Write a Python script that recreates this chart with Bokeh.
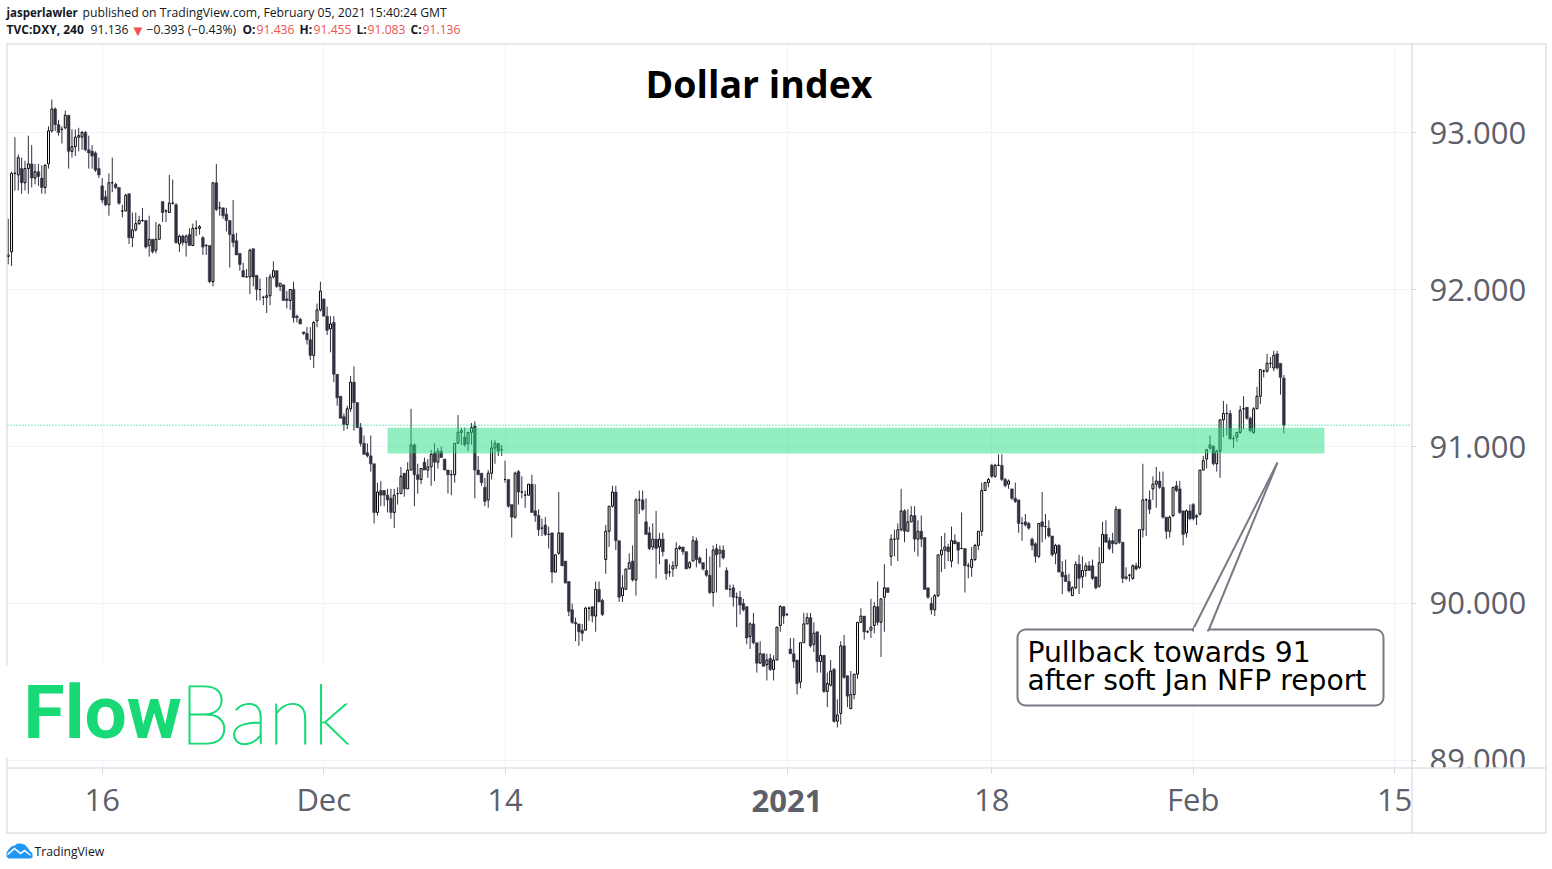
from bokeh.embed import file_html
from bokeh.models import (BoxAnnotation, ColumnDataSource, FixedTicker, Label,
                          NumeralTickFormatter, PolyAnnotation)
from bokeh.plotting import figure
from bokeh.resources import INLINE

opens = [
92.21,92.24,92.74,92.73,92.77,92.68,92.77,92.80,92.71,92.75,
92.71,92.65,92.80,93.01,93.15,93.05,93.02,93.03,93.11,92.88,
92.91,92.97,92.97,93.00,92.89,92.88,92.87,92.77,92.66,92.59,
92.54,92.68,92.67,92.65,92.50,92.50,92.61,92.33,92.38,92.42,
92.44,92.44,92.28,92.32,92.25,92.32,92.56,92.50,92.49,92.55,
92.54,92.29,92.34,92.30,92.35,92.28,92.39,92.39,92.33,92.28,
92.28,92.05,92.68,92.52,92.52,92.48,92.44,92.35,92.31,92.23,
92.12,92.08,92.08,92.26,92.09,92.00,91.95,91.95,91.96,92.08,
92.12,92.02,92.03,91.94,91.93,92.00,91.83,91.81,91.73,91.72,
91.68,91.58,91.80,91.87,91.94,91.83,91.75,91.79,91.46,91.32,
91.19,91.14,91.24,91.41,91.28,91.12,91.02,90.96,90.94,90.89,
90.58,90.72,90.72,90.69,90.67,90.58,90.70,90.70,90.83,90.73,
90.85,91.01,90.82,90.79,90.90,90.85,90.87,90.96,90.90,90.97,
90.92,90.85,90.82,90.82,91.02,91.09,91.06,91.02,91.09,91.13,
90.85,90.83,90.74,90.66,90.83,90.99,91.02,90.98,90.79,90.79,
90.63,90.55,90.84,90.71,90.69,90.69,90.76,90.59,90.56,90.48,
90.50,90.44,90.45,90.20,90.32,90.45,90.27,90.14,89.96,89.88,
89.87,89.83,89.83,89.97,89.98,89.92,90.09,90.02,90.28,90.46,
90.62,90.71,90.40,90.05,90.09,90.22,90.27,90.15,90.66,90.66,
90.52,90.45,90.36,90.41,90.36,90.41,90.28,90.20,90.22,90.24,
90.35,90.36,90.33,90.23,90.27,90.40,90.29,90.26,90.21,90.18,
90.07,90.35,90.32,90.34,90.21,90.09,90.10,90.04,90.04,90.00,
89.98,89.79,89.87,89.75,89.62,89.68,89.61,89.65,89.58,89.64,
89.86,89.98,89.93,89.71,89.68,89.64,89.50,89.75,89.87,89.91,
89.74,89.82,89.63,89.67,89.44,89.48,89.58,89.25,89.30,89.73,
89.54,89.33,89.42,89.55,89.88,89.92,89.82,89.83,89.86,89.98,
89.88,90.04,90.10,90.30,90.41,90.41,90.47,90.59,90.46,90.52,
90.56,90.41,90.46,90.42,90.10,90.00,89.96,90.05,90.31,90.34,
90.36,90.27,90.40,90.39,90.35,90.35,90.24,90.23,90.28,90.37,
90.46,90.72,90.77,90.88,90.81,90.88,90.88,90.79,90.76,90.73,
90.67,90.66,90.51,90.52,90.51,90.41,90.38,90.30,90.52,90.49,
90.48,90.43,90.32,90.37,90.20,90.18,90.14,90.05,90.10,90.25,
90.17,90.21,90.24,90.24,90.17,90.11,90.26,90.44,90.40,90.40,
90.38,90.60,90.39,90.17,90.18,90.16,90.24,90.23,90.47,90.66,
90.66,90.73,90.76,90.78,90.74,90.55,90.46,90.56,90.75,90.73,
90.59,90.45,90.59,90.63,90.56,90.57,90.85,90.92,90.99,91.00,
90.89,90.97,91.17,91.21,91.21,91.05,91.06,91.09,91.24,91.25,
91.18,91.09,91.24,91.32,91.48,91.48,91.53,91.50,91.59,91.53,
91.436]

closes = [
92.22,92.74,92.74,92.84,92.68,92.77,92.80,92.71,92.75,92.72,
92.65,92.79,93.01,93.15,93.05,93.00,93.02,93.11,92.88,92.91,
92.97,92.98,93.00,92.89,92.87,92.85,92.76,92.73,92.57,92.54,
92.68,92.68,92.65,92.55,92.50,92.60,92.33,92.38,92.42,92.44,
92.44,92.27,92.32,92.24,92.32,92.41,92.49,92.50,92.55,92.55,
92.30,92.34,92.30,92.34,92.28,92.39,92.39,92.40,92.27,92.28,
92.05,92.68,92.51,92.52,92.47,92.44,92.35,92.30,92.22,92.16,
92.08,92.08,92.25,92.08,92.00,92.00,91.95,91.96,92.08,92.12,
92.02,92.04,91.93,91.93,92.00,91.82,91.82,91.78,91.72,91.68,
91.58,91.79,91.87,91.99,91.83,91.74,91.78,91.46,91.31,91.18,
91.14,91.24,91.41,91.28,91.12,91.02,90.95,90.94,90.89,90.58,
90.71,90.69,90.69,90.66,90.58,90.69,90.70,90.81,90.73,90.85,
91.01,90.82,90.79,90.86,90.85,90.87,90.95,90.90,90.97,90.93,
90.85,90.82,90.82,91.02,91.09,91.10,91.01,91.09,91.12,90.85,
90.82,90.77,90.65,90.83,90.99,91.02,90.97,90.98,90.79,90.62,
90.55,90.83,90.71,90.71,90.69,90.76,90.58,90.56,90.47,90.48,
90.44,90.44,90.20,90.31,90.45,90.24,90.13,89.95,89.88,89.87,
89.82,89.81,89.97,89.97,89.92,90.09,90.01,89.93,90.46,90.62,
90.71,90.40,90.04,90.10,90.22,90.26,90.15,90.66,90.66,90.60,
90.44,90.35,90.41,90.35,90.41,90.33,90.19,90.20,90.24,90.35,
90.36,90.33,90.22,90.26,90.40,90.28,90.26,90.22,90.18,90.07,
90.34,90.31,90.34,90.29,90.09,90.09,90.04,90.04,89.99,89.96,
89.78,89.87,89.75,89.62,89.68,89.60,89.64,89.58,89.64,89.85,
89.98,89.92,89.93,89.68,89.63,89.49,89.75,89.87,89.91,89.73,
89.81,89.63,89.67,89.44,89.49,89.57,89.25,89.29,89.73,89.53,
89.41,89.42,89.55,89.88,89.92,89.82,89.82,89.85,89.98,89.88,
90.03,90.10,90.07,90.41,90.41,90.47,90.59,90.46,90.52,90.56,
90.41,90.46,90.41,90.09,90.04,89.96,90.05,90.31,90.34,90.36,
90.33,90.40,90.38,90.34,90.35,90.24,90.24,90.28,90.37,90.46,
90.72,90.77,90.79,90.81,90.88,90.88,90.79,90.75,90.78,90.67,
90.65,90.51,90.51,90.50,90.48,90.37,90.30,90.51,90.49,90.49,
90.43,90.31,90.37,90.20,90.17,90.14,90.08,90.10,90.25,90.16,
90.21,90.24,90.21,90.16,90.10,90.26,90.44,90.39,90.35,90.38,
90.60,90.39,90.16,90.16,90.18,90.24,90.22,90.47,90.66,90.66,
90.60,90.76,90.78,90.74,90.55,90.46,90.55,90.74,90.72,90.58,
90.44,90.59,90.54,90.54,90.55,90.85,90.91,90.98,91.01,90.89,
90.97,91.17,91.21,91.21,91.05,91.05,91.09,91.23,91.24,91.18,
91.10,91.24,91.32,91.49,91.48,91.53,91.53,91.58,91.50,91.44,
91.136]

highs = [
92.45,92.75,92.97,92.86,92.84,92.82,92.98,92.92,92.80,92.80,
92.79,92.80,93.04,93.21,93.16,93.08,93.04,93.14,93.11,93.02,
93.02,93.03,93.01,93.01,92.98,92.92,92.88,92.84,92.71,92.63,
92.74,92.84,92.68,92.65,92.54,92.61,92.61,92.49,92.49,92.47,
92.52,92.44,92.47,92.32,92.43,92.42,92.56,92.51,92.73,92.70,
92.55,92.35,92.35,92.35,92.39,92.42,92.44,92.41,92.34,92.29,
92.28,92.68,92.80,92.56,92.52,92.52,92.44,92.57,92.36,92.23,
92.17,92.13,92.26,92.26,92.09,92.07,91.96,92.08,92.10,92.18,
92.12,92.04,92.03,91.99,92.00,92.05,91.84,91.82,91.73,91.76,
91.76,91.80,91.91,92.05,91.94,91.89,91.83,91.83,91.46,91.32,
91.21,91.26,91.45,91.51,91.28,91.15,91.07,91.02,91.07,90.89,
90.77,90.78,90.72,90.73,90.73,90.73,90.74,90.87,90.83,90.90,
91.24,91.02,90.89,90.86,90.93,90.92,90.98,91.02,90.99,91.00,
90.92,90.85,90.85,91.02,91.20,91.12,91.12,91.09,91.15,91.16,
90.94,90.83,90.80,90.85,91.04,91.04,91.02,91.01,90.91,90.79,
90.63,90.84,90.85,90.81,90.72,90.76,90.82,90.76,90.60,90.54,
90.55,90.49,90.45,90.31,90.71,90.45,90.27,90.14,90.00,89.91,
89.87,89.87,89.98,89.98,89.98,90.14,90.14,90.03,90.50,90.62,
90.75,90.75,90.40,90.18,90.22,90.32,90.37,90.67,90.72,90.72,
90.67,90.49,90.51,90.59,90.45,90.45,90.28,90.25,90.27,90.39,
90.37,90.36,90.33,90.27,90.43,90.42,90.30,90.26,90.35,90.30,
90.37,90.38,90.37,90.37,90.23,90.12,90.12,90.07,90.08,90.03,
89.98,89.88,89.94,89.75,89.76,89.68,89.68,89.68,89.67,89.85,
89.99,89.98,89.94,89.78,89.78,89.64,89.75,89.94,89.94,89.94,
89.88,89.82,89.80,89.67,89.56,89.64,89.59,89.39,89.76,89.80,
89.54,89.57,89.55,89.88,89.97,89.92,89.83,90.03,90.01,90.14,
90.03,90.25,90.10,90.44,90.47,90.51,90.73,90.60,90.60,90.62,
90.62,90.53,90.56,90.42,90.10,90.04,90.06,90.31,90.43,90.45,
90.38,90.49,90.44,90.39,90.58,90.35,90.26,90.36,90.38,90.46,
90.77,90.77,90.80,90.89,90.89,90.95,90.95,90.80,90.79,90.73,
90.77,90.66,90.55,90.57,90.52,90.42,90.39,90.51,90.71,90.57,
90.53,90.43,90.38,90.38,90.27,90.28,90.19,90.11,90.27,90.31,
90.30,90.26,90.27,90.28,90.17,90.36,90.52,90.53,90.42,90.45,
90.62,90.60,90.39,90.23,90.19,90.25,90.26,90.47,90.89,90.67,
90.72,90.81,90.87,90.84,90.84,90.55,90.56,90.74,90.78,90.78,
90.59,90.60,90.63,90.64,90.57,90.85,90.94,90.98,91.07,91.01,
90.98,91.17,91.29,91.27,91.23,91.07,91.09,91.26,91.32,91.25,
91.19,91.25,91.38,91.49,91.49,91.59,91.57,91.61,91.61,91.53,
91.455]

lows = [
92.16,92.15,92.63,92.63,92.61,92.63,92.61,92.65,92.67,92.66,
92.61,92.61,92.77,93.00,93.01,92.98,92.93,93.02,92.77,92.84,
92.85,92.88,92.89,92.88,92.77,92.77,92.75,92.71,92.55,92.53,
92.47,92.62,92.64,92.54,92.46,92.50,92.29,92.27,92.37,92.41,
92.43,92.26,92.21,92.23,92.23,92.32,92.43,92.43,92.49,92.54,
92.29,92.24,92.28,92.21,92.28,92.28,92.34,92.35,92.22,92.22,
92.04,92.02,92.50,92.47,92.45,92.37,92.14,92.27,92.22,92.12,
92.08,92.08,91.97,92.02,91.93,91.93,91.90,91.85,91.90,92.07,
92.01,91.99,91.93,91.88,91.87,91.79,91.79,91.78,91.71,91.65,
91.55,91.50,91.76,91.86,91.83,91.71,91.60,91.41,91.26,91.18,
91.10,91.11,91.22,91.10,91.12,91.00,90.95,90.93,90.84,90.51,
90.56,90.62,90.62,90.58,90.54,90.48,90.63,90.70,90.68,90.73,
90.85,90.62,90.70,90.76,90.85,90.80,90.75,90.78,90.86,90.93,
90.85,90.70,90.69,90.77,91.02,91.01,91.00,90.97,91.01,90.67,
90.82,90.75,90.62,90.61,90.79,90.89,90.94,90.94,90.77,90.61,
90.42,90.54,90.63,90.67,90.61,90.69,90.58,90.52,90.43,90.43,
90.43,90.35,90.13,90.20,90.31,90.24,90.13,89.92,89.87,89.76,
89.73,89.76,89.83,89.89,89.88,89.82,90.01,89.92,90.19,90.36,
90.61,90.34,90.01,90.01,90.09,90.22,90.14,90.05,90.57,90.59,
90.44,90.34,90.34,90.16,90.25,90.30,90.15,90.17,90.17,90.22,
90.34,90.31,90.22,90.22,90.27,90.23,90.25,90.21,90.17,90.06,
89.98,90.07,90.23,90.28,90.09,90.04,89.98,89.85,89.93,89.95,
89.74,89.71,89.74,89.56,89.62,89.60,89.51,89.57,89.51,89.64,
89.82,89.87,89.92,89.68,89.59,89.42,89.46,89.75,89.87,89.72,
89.69,89.56,89.56,89.43,89.34,89.47,89.24,89.21,89.23,89.52,
89.34,89.33,89.39,89.52,89.88,89.77,89.81,89.78,89.81,89.86,
89.66,89.82,90.07,90.24,90.30,90.27,90.46,90.39,90.46,90.52,
90.33,90.30,90.36,90.09,90.03,89.93,89.92,90.04,90.20,90.22,
90.27,90.23,90.38,90.25,90.35,90.07,90.16,90.17,90.27,90.34,
90.43,90.72,90.74,90.80,90.80,90.88,90.78,90.74,90.73,90.66,
90.64,90.45,90.40,90.49,90.47,90.34,90.26,90.29,90.39,90.41,
90.42,90.30,90.25,90.20,90.06,90.14,90.07,90.05,90.09,90.06,
90.10,90.17,90.21,90.15,90.09,90.10,90.26,90.39,90.34,90.32,
90.38,90.38,90.13,90.15,90.14,90.15,90.21,90.22,90.42,90.43,
90.57,90.66,90.61,90.73,90.54,90.41,90.42,90.55,90.71,90.57,
90.37,90.42,90.53,90.53,90.50,90.56,90.85,90.86,90.98,90.88,
90.84,90.80,91.06,91.07,91.04,90.99,91.03,91.08,91.11,91.17,
91.09,91.08,91.24,91.27,91.44,91.47,91.50,91.48,91.49,91.33,
91.083]

price_ticks = [89, 90, 91, 92, 93]
time_ticks = [28, 94, 148, 232, 293, 353, 413]
time_labels = ["16", "Dec", "14", "2021", "18", "Feb", "15"]
last_close = 91.136
zone_start, zone_end = 113.0, 392.1
zone_low, zone_high = 90.955, 91.12

n = len(opens)
idx = list(range(n))
up = [i for i in idx if closes[i] >= opens[i]]
down = [i for i in idx if closes[i] < opens[i]]

GRID = "#f0f3fa"
BORDER = "#d1d4dc"
AXIS_TEXT = "#5d606b"
DARK = "#2f3140"
RED = "#ef5350"
GREEN = "#19d976"
CALLOUT = "#787b86"

# pane edges on the page
PANE_X0, PANE_X1 = -0.21, 418.03
PANE_Y0, PANE_Y1 = 88.949, 93.5605

p = figure(width=1552, height=869, output_backend="svg", toolbar_location=None,
           x_range=(-2.294, 460.03), y_range=(88.3057, 93.8408),
           y_axis_location="right", min_border=0, outline_line_color=None,
           background_fill_color="white", border_fill_color="white")
p.styles = {"position": "absolute", "left": "0", "top": "0"}

xa, ya = p.xaxis[0], p.yaxis[0]
xa.fixed_location = PANE_Y0
ya.fixed_location = PANE_X1
xa.ticker = FixedTicker(ticks=time_ticks)
ya.ticker = FixedTicker(ticks=price_ticks)
ya.formatter = NumeralTickFormatter(format="0.000")
xa.major_label_overrides = {t: (" " if l == "2021" else l) for t, l in zip(time_ticks, time_labels)}
for a in (xa, ya):
    a.axis_line_color = None
    a.major_tick_line_color = BORDER
    a.major_tick_out = 5
    a.major_tick_in = 0
    a.minor_tick_line_color = None
    a.major_label_text_font = "Open Sans"
    a.major_label_text_font_size = "31px"
    a.major_label_text_color = AXIS_TEXT
    a.major_label_standoff = 13
xa.major_label_standoff = 4

xg, yg = p.xgrid[0], p.ygrid[0]
xg.ticker = FixedTicker(ticks=time_ticks)
yg.ticker = FixedTicker(ticks=price_ticks)
xg.grid_line_color = GRID
yg.grid_line_color = GRID
xg.cross_bounds = (PANE_Y0, PANE_Y1)
yg.cross_bounds = (PANE_X0, PANE_X1)

# candles
p.segment(idx, highs, idx, lows, line_color=DARK, line_width=1)
up_src = ColumnDataSource(dict(x=up, top=[closes[i] for i in up], bottom=[opens[i] for i in up]))
down_src = ColumnDataSource(dict(x=down, top=[opens[i] for i in down], bottom=[closes[i] for i in down]))
p.vbar("x", 0.58, "top", "bottom", source=up_src, fill_color="white", line_color="#000000", line_width=1)
p.vbar("x", 0.82, "top", "bottom", source=down_src, fill_color=DARK, line_color=DARK, line_width=0.5)

# support zone + last price
p.quad(left=[zone_start], right=[zone_end], bottom=[zone_low], top=[zone_high],
       fill_color="#25dd81", fill_alpha=0.5, line_color=None)
p.line([PANE_X0, PANE_X1], [last_close, last_close], line_color="#00cf7a",
       line_width=1, line_dash=[1, 2])


def cbox(left, right, top, bottom, fill="white", line=None, lw=1, radius=0, level="annotation"):
    b = BoxAnnotation(left=left, right=right, top=top, bottom=bottom,
                      left_units="canvas", right_units="canvas",
                      top_units="canvas", bottom_units="canvas",
                      fill_color=fill, fill_alpha=1, line_color=line, line_width=lw, line_alpha=1,
                      border_radius=radius, level=level, editable=False)
    p.add_layout(b)
    return b


def text(x, y, s, size, color="#131722", font="Open Sans", style="normal", align="left", baseline="middle", **kw):
    p.add_layout(Label(x=x, y=y, x_units="canvas", y_units="canvas", text=s,
                       text_font=font, text_font_size=f"{size}px", text_color=color,
                       text_font_style=style, text_align=align, text_baseline=baseline,
                       level="overlay", **kw))


# frame
cbox(1412, 1546, 767, 790)                # clips the 89.000 label
cbox(6, 1546, 43, 44, fill=BORDER)        # top
cbox(6, 7, 43, 833, fill=BORDER)          # left
cbox(1545, 1546, 43, 833, fill=BORDER)    # right
cbox(6, 1546, 832, 833, fill=BORDER)      # bottom
cbox(1411, 1412, 43, 833, fill=BORDER)    # price axis
cbox(7, 1546, 767, 768, fill=BORDER)      # time axis

# logo
cbox(0, 365, 665, 757)
text(23, 711, "Flow", 75, GREEN, "Roboto", "bold")
text(179, 711, "Bank", 82, GREEN, "Lato Hairline, Roboto Thin, Lato Light", text_outline_color=GREEN)

# callout
cbox(1017, 1383, 629, 705, line=CALLOUT, lw=2, radius=8)
p.add_layout(PolyAnnotation(xs=[1192, 1277, 1208], ys=[630, 462, 630], xs_units="canvas", ys_units="canvas",
                            fill_color="white", fill_alpha=1, line_color=CALLOUT, line_width=2, line_alpha=1,
                            level="annotation", editable=False))
cbox(1193.5, 1206.5, 627, 632)
text(1027, 652, "Pullback towards 91", 28.2, "#000000", "DejaVu Sans")
text(1027, 680, "after soft Jan NFP report", 28.2, "#000000", "DejaVu Sans")

# title
text(758.5, 83, "Dollar index", 37.5, "#000000", "Open Sans", "bold", align="center")

# bold time label
p.add_layout(Label(x=time_ticks[3], y=800, x_units="data", y_units="canvas", text=time_labels[3],
                   text_font="Open Sans", text_font_size="31px", text_font_style="bold",
                   text_color=AXIS_TEXT, text_align="center", text_baseline="middle", level="overlay"))

# header
text(6, 12, "jasperlawler", 11.5, style="bold")
text(82, 12, "published on TradingView.com, February 05, 2021 15:40:24 GMT", 12.2)
text(6, 29, "TVC:DXY, 240", 12, style="bold")
text(90, 29, "91.136", 12.2)
text(130, 29, "\u25bc", 15, RED)
text(146, 29, "\u22120.393 (\u22120.43%)", 12.2)
for lx, lab, vx, val in [(242, "O:", 256, "91.436"), (299, "H:", 313, "91.455"),
                         (356, "L:", 367, "91.083"), (410, "C:", 422, "91.136")]:
    text(lx, 29, lab, 12, style="bold")
    text(vx, 29, val, 12.2, RED)

# footer
p.add_layout(PolyAnnotation(
    xs=[6, 8, 11, 14, 17, 20, 24, 27, 29, 32, 32, 30, 8, 6],
    ys=[852, 849, 846, 845, 843, 843, 844, 847, 850, 853, 857, 858, 858, 856],
    xs_units="canvas", ys_units="canvas", fill_color="#2196f3", fill_alpha=1, line_color=None,
    level="overlay", editable=False))
p.add_layout(PolyAnnotation(
    xs=[7, 14, 20, 24, 30, 30, 24, 20, 14, 7], ys=[853, 847, 852, 849, 854, 855.5, 851, 854, 849, 855],
    xs_units="canvas", ys_units="canvas", fill_color="white", fill_alpha=1, line_color=None,
    level="overlay", editable=False))
text(34, 851, "TradingView", 12.2)

open("out.html", "w").write(file_html(p, INLINE))
